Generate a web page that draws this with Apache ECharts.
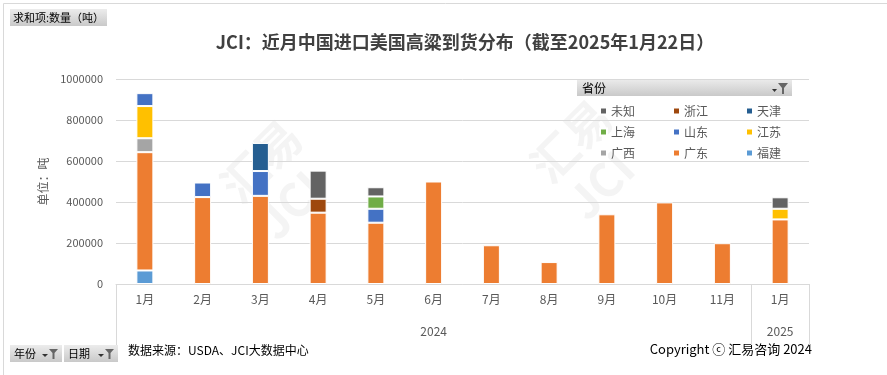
<!DOCTYPE html>
<html>
<head>
<meta charset="utf-8">
<script src="https://cdn.jsdelivr.net/npm/echarts@6/dist/echarts.min.js"></script>
<style>
  html, body { margin: 0; padding: 0; background: #fff; }
  #chart { width: 887px; height: 375px; }
</style>
</head>
<body>
<div id="chart"></div>
<script>
// 月份 & 年份
var months = ["1月", "2月", "3月", "4月", "5月", "6月", "7月", "8月", "9月", "10月", "11月", "1月"];
var years = ["", "", "", "", "", "2024", "", "", "", "", "", "2025"];
var yTicks = [0, 200000, 400000, 600000, 800000, 1000000];

// 各省份到货量（吨），自下而上堆叠
var fujian   = [66000, null, null, null, null, null, null, null, null, null, null, null];
var guangdong = [577000, 424000, 430000, 348000, 299000, 500000, 189000, 107000, 340000, 398000, 199000, 315000];
var guangxi  = [68000, null, null, null, null, null, null, null, null, null, null, null];
var jiangsu  = [157000, null, null, null, null, null, null, null, null, null, null, 52000];
var shandong = [63000, 71000, 121000, null, 68000, null, null, null, null, null, null, null];
var shanghai = [null, null, null, null, 60000, null, null, null, null, null, null, null];
var tianjin  = [null, null, 137000, null, null, null, null, null, null, null, null, null];
var zhejiang = [null, null, null, 68000, null, null, null, null, null, null, null, null];
var weizhi   = [null, null, null, 137000, 45000, null, null, null, null, null, null, 56000];

var provinces = [
  { name: "福建", color: "#5B9BD5", data: fujian },
  { name: "广东", color: "#ED7D31", data: guangdong },
  { name: "广西", color: "#A5A5A5", data: guangxi },
  { name: "江苏", color: "#FFC000", data: jiangsu },
  { name: "山东", color: "#4472C4", data: shandong },
  { name: "上海", color: "#70AD47", data: shanghai },
  { name: "天津", color: "#255E91", data: tianjin },
  { name: "浙江", color: "#9E480E", data: zhejiang },
  { name: "未知", color: "#636363", data: weizhi }
];
var legendRows = [["未知", "浙江", "天津"], ["上海", "山东", "江苏"], ["广西", "广东", "福建"]];

var FONT = "'Noto Sans CJK SC', 'Microsoft YaHei', sans-serif";
var chart = echarts.init(document.getElementById("chart"));

var btnFill = new echarts.graphic.LinearGradient(0, 0, 0, 1, [
  { offset: 0, color: "#ececec" },
  { offset: 1, color: "#c9c9c9" }
]);

// 筛选按钮（漏斗 + 下拉箭头）
function filterButton(x, y, w, label) {
  return {
    type: "group",
    left: x,
    top: y,
    children: [
      { type: "rect", shape: { x: 0, y: 0, width: w, height: 17 }, style: { fill: btnFill } },
      { type: "text", style: { x: 4, y: 9, text: label, fontSize: 11, fontFamily: FONT, fill: "#000", verticalAlign: "middle" } },
      { type: "polygon", shape: { points: [[w - 20, 9], [w - 14, 9], [w - 17, 12]] }, style: { fill: "#333" } },
      { type: "polygon", shape: { points: [[w - 13, 4], [w - 4, 4], [w - 7.5, 8], [w - 7.5, 14], [w - 9.5, 14], [w - 9.5, 8]] }, style: { fill: "#666" } }
    ]
  };
}

var legends = legendRows.map(function (row, i) {
  return {
    data: row,
    left: 594,
    top: 100 + i * 21,
    icon: "rect",
    itemWidth: 7,
    itemHeight: 7,
    itemGap: 37,
    selectedMode: false,
    textStyle: { fontSize: 12, color: "#595959", fontFamily: FONT, padding: [0, 0, 0, -1] }
  };
});

var series = provinces.map(function (p) {
  return {
    name: p.name,
    type: "bar",
    stack: "total",
    barWidth: 17,
    itemStyle: { color: p.color, borderColor: "#fff", borderWidth: 1 },
    data: p.data
  };
});

var option = {
  animation: false,
  textStyle: { fontFamily: FONT },
  title: {
    text: "JCI：近月中国进口美国高粱到货分布（截至2025年1月22日）",
    left: 460,
    textAlign: "center",
    top: 28,
    textStyle: { fontSize: 18, fontWeight: "bold", color: "#404040", fontFamily: FONT }
  },
  legend: legends,
  grid: { left: 116, right: 78, top: 79, bottom: 91 },
  xAxis: [
    {
      type: "category",
      data: months,
      axisLine: { lineStyle: { color: "#d9d9d9" } },
      axisTick: {
        show: true,
        length: 61,
        interval: function (i) { return i === 0 || i === 11; },
        lineStyle: { color: "#d9d9d9" }
      },
      axisLabel: { color: "#595959", fontSize: 12, margin: 9, interval: 0 }
    },
    {
      type: "category",
      data: years,
      position: "bottom",
      offset: 33,
      axisLine: { show: false },
      axisTick: { show: false },
      axisLabel: { color: "#595959", fontSize: 12, interval: 0 }
    }
  ],
  yAxis: {
    type: "value",
    min: yTicks[0],
    max: yTicks[yTicks.length - 1],
    interval: yTicks[1] - yTicks[0],
    name: "单位：吨",
    nameLocation: "middle",
    nameGap: 47,
    nameTextStyle: { color: "#595959", fontSize: 12 },
    axisLine: { show: false },
    axisTick: { show: false },
    axisLabel: { color: "#595959", fontSize: 11, margin: 13, formatter: function (v) { return String(v); } },
    splitLine: { lineStyle: { color: "#d9d9d9" } }
  },
  graphic: [
    { type: "rect", left: 1, top: 1, shape: { width: 884, height: 372 }, style: { fill: "none", stroke: "#d9d9d9", lineWidth: 1 }, z: -10 },
    // 水印
    { type: "text", left: 210, top: 110, rotation: Math.PI / 4, style: { text: "汇易\nJCI", fontSize: 46, fontWeight: "bold", fill: "rgba(200,200,200,0.2)", fontFamily: FONT, lineHeight: 52 }, z: -5 },
    { type: "text", left: 520, top: 90, rotation: Math.PI / 4, style: { text: "汇易\nJCI", fontSize: 46, fontWeight: "bold", fill: "rgba(200,200,200,0.2)", fontFamily: FONT, lineHeight: 52 }, z: -5 },
    {
      type: "group",
      left: 10,
      top: 9,
      children: [
        { type: "rect", shape: { x: 0, y: 0, width: 97, height: 17 }, style: { fill: btnFill } },
        { type: "text", style: { x: 3, y: 9, text: "求和项:数量（吨）", fontSize: 11, fontFamily: FONT, fill: "#000", verticalAlign: "middle" } }
      ]
    },
    filterButton(10, 345, 52, "年份"),
    filterButton(64, 345, 54, "日期"),
    {
      type: "group",
      left: 577,
      top: 79,
      children: [
        { type: "rect", shape: { x: 0, y: 0, width: 215, height: 17 }, style: { fill: btnFill } },
        { type: "text", style: { x: 5, y: 9, text: "省份", fontSize: 12, fontFamily: FONT, fill: "#000", verticalAlign: "middle" } },
        { type: "polygon", shape: { points: [[195, 10], [200, 10], [197.5, 13]] }, style: { fill: "#333" } },
        { type: "polygon", shape: { points: [[201, 4], [211, 4], [207, 9], [207, 15], [205, 15], [205, 9]] }, style: { fill: "#666" } }
      ]
    },
    { type: "text", left: 128, top: 344, style: { text: "数据来源：USDA、JCI大数据中心", fontSize: 12, fontFamily: FONT, fill: "#000" } },
    { type: "text", right: 75, top: 343, style: { text: "Copyright ⓒ 汇易咨询 2024", fontSize: 13, fontFamily: FONT, fill: "#000" } }
  ],
  series: series
};

chart.setOption(option);
</script>
</body>
</html>
